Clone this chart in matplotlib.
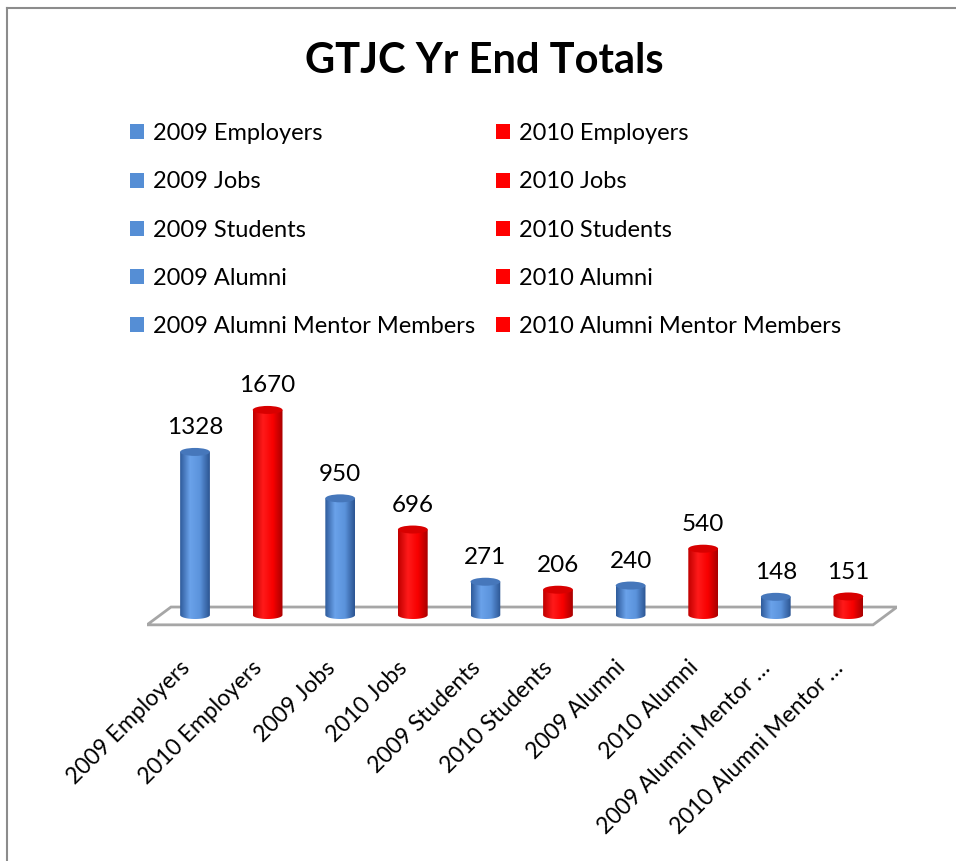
import numpy as np
import matplotlib.pyplot as plt
from matplotlib.patches import Ellipse, PathPatch, Patch, Polygon
from matplotlib.path import Path
from matplotlib.colors import LinearSegmentedColormap
from matplotlib.lines import Line2D
from matplotlib.transforms import ScaledTranslation

plt.rcParams['font.family'] = ['Lato', 'DejaVu Sans']

categories = ['2009 Employers', '2010 Employers', '2009 Jobs', '2010 Jobs',
              '2009 Students', '2010 Students', '2009 Alumni', '2010 Alumni',
              '2009 Alumni Mentor Members', '2010 Alumni Mentor Members']
tick_labels = ['2009 Employers', '2010 Employers', '2009 Jobs', '2010 Jobs',
               '2009 Students', '2010 Students', '2009 Alumni', '2010 Alumni',
               '2009 Alumni Mentor \u2026', '2010 Alumni Mentor \u2026']
values = [1328, 1670, 950, 696, 271, 206, 240, 540, 148, 151]
years = ['2009', '2010', '2009', '2010', '2009', '2010', '2009', '2010', '2009', '2010']

BLUE = '#558ed5'
RED = '#ff0000'
body_cmaps = {
    '2009': LinearSegmentedColormap.from_list('b', ['#2f5c9c', '#6aa2ea', '#5b93dc', '#2c5592']),
    '2010': LinearSegmentedColormap.from_list('r', ['#c00000', '#ff1a1a', '#f80000', '#a80000']),
}
cap_color = {'2009': '#4677bb', '2010': '#d80000'}
legend_color = {'2009': BLUE, '2010': RED}

fig = plt.figure(figsize=(9.56, 8.61), dpi=100)
ax = fig.add_axes([0.1538, 0.2683, 0.7845, 0.2904])

bar_w = 0.41
cap_h = 65
grad = np.linspace(0, 1, 64).reshape(1, -1)

# floor of the 3d plot
depth = 0.33
floor = Polygon([(-0.661, -80), (9.67 - depth, -80), (9.67, 65), (-0.661 + depth, 65)],
                closed=True, facecolor='white', edgecolor='#a6a6a6', lw=2, zorder=1)
ax.add_patch(floor)

for i, (v, yr) in enumerate(zip(values, years)):
    t = np.linspace(np.pi, 2 * np.pi, 40)
    ex = i + bar_w / 2 * np.cos(t)
    ey = cap_h / 2 * np.sin(t)
    verts = list(zip(ex, ey)) + [(i + bar_w / 2, v), (i - bar_w / 2, v), (ex[0], ey[0])]
    clip = PathPatch(Path(verts), facecolor='none', edgecolor='none', transform=ax.transData)
    ax.add_patch(clip)
    im = ax.imshow(grad, cmap=body_cmaps[yr], aspect='auto', zorder=2,
                   extent=[i - bar_w / 2, i + bar_w / 2, -cap_h / 2, v])
    im.set_clip_path(clip)
    ax.add_patch(Ellipse((i, v), bar_w, cap_h, facecolor=cap_color[yr], edgecolor='none', zorder=3))
    ax.annotate(str(v), (i, v + cap_h / 2), xytext=(0, 7), textcoords='offset points',
                ha='center', va='bottom', fontsize=17.5, color='black')

ax.set_xlim(-0.661, 9.67)
ax.set_ylim(-122, 1914)
ax.set_xticks(range(len(values)))
ax.set_xticklabels(tick_labels, rotation=45, ha='right', rotation_mode='anchor', fontsize=16.5)
ax.tick_params(axis='x', length=0, pad=18)
shift = ScaledTranslation(-16 / 100, -2 / 100, fig.dpi_scale_trans)
for lab in ax.get_xticklabels():
    lab.set_transform(lab.get_transform() + shift)
ax.set_yticks([])
for s in ax.spines.values():
    s.set_visible(False)

# legend: 2009 column then 2010 column
order = list(range(0, 10, 2)) + list(range(1, 10, 2))
handles = [Patch(facecolor=legend_color[years[k]], edgecolor='none') for k in order]
labels = [categories[k] for k in order]
fig.legend(handles, labels, ncol=2, loc='upper left', bbox_to_anchor=(0.1256, 0.868),
           frameon=False, fontsize=17, handlelength=0.6, handleheight=0.6,
           handletextpad=0.38, labelspacing=1.155, columnspacing=0.9, borderaxespad=0)

fig.suptitle('GTJC Yr End Totals', fontsize=30, fontweight='bold', x=0.507, y=0.951)

# outer chart border
fig.add_artist(Line2D([0.007, 1.0], [0.991, 0.991], color='#8c8c8c', lw=1.5, transform=fig.transFigure))
fig.add_artist(Line2D([0.007, 0.007], [0.0, 0.991], color='#8c8c8c', lw=1.5, transform=fig.transFigure))

fig.savefig('out.png', dpi=100)
